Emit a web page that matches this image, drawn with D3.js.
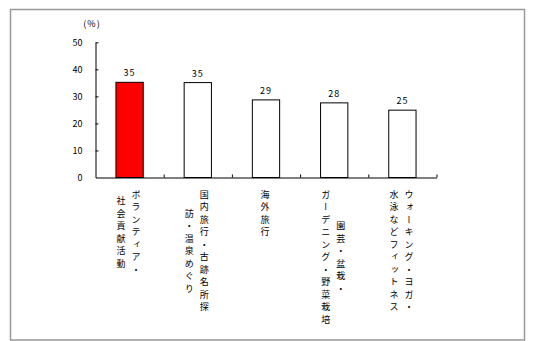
<!DOCTYPE html>
<html>
<head>
<meta charset="utf-8">
<script src="https://cdn.jsdelivr.net/npm/d3@7"></script>
<style>
  body { margin: 0; background: #fff; }
  text { font-family: "MS Gothic", "Noto Sans CJK JP", sans-serif; fill: #000; }
</style>
</head>
<body>
<div id="chart"></div>
<script>
// categories (each label is split into vertical columns, read right to left)
var categories = ["ボランティア・社会貢献活動", "国内旅行・古跡名所探訪・温泉めぐり", "海外旅行",
  "園芸・盆栽・ガーデニング・野菜栽培", "ウォーキング・ヨガ・水泳などフィットネス"];
var labelColumns = [
  ["ボランティア・", "社会貢献活動"],
  ["国内旅行・古跡名所探", "訪・温泉めぐり"],
  ["海外旅行"],
  ["園芸・盆栽・", "ガーデニング・野菜栽培"],
  ["ウォーキング・ヨガ・", "水泳などフィットネス"]
];
var values = [35.2, 35.1, 28.7, 27.6, 24.9];
var valueLabels = ["35", "35", "29", "28", "25"];
var yTicks = [0, 10, 20, 30, 40, 50];

var width = 535, height = 341;

var svg = d3.select("#chart").append("svg")
	.attr("width", width)
	.attr("height", height);

// outer frame
svg.append("rect").attr("x", 10.5).attr("y", 9.5).attr("width", 514).attr("height", 330.5)
	.attr("fill", "none").attr("stroke", "#999").attr("stroke-width", 1.5);

var x0 = 95.5, x1 = 436.5, yBase = 177.5, yTop = 42.3;

var x = d3.scaleBand().domain(categories).range([x0, x1]).paddingInner(0.6).paddingOuter(0.3);
var y = d3.scaleLinear().domain([0, 50]).range([yBase, yTop]);

// y axis, ticks inside
var yAxis = svg.append("g").attr("transform", "translate(" + x0 + ",0)")
	.call(d3.axisLeft(y).tickValues(yTicks).tickSize(-3).tickSizeOuter(0).tickPadding(13));
yAxis.select(".domain").attr("stroke", "#000");
yAxis.selectAll("line").attr("stroke", "#000");
yAxis.selectAll("text").attr("font-size", "9px").attr("dy", "0.35em");
yAxis.selectAll(".tick").filter(function(d) { return d === 0; }).select("line").remove();

// x axis with ticks at category boundaries
var xb = d3.scaleLinear().domain([0, 5]).range([x0, x1]);
var xAxis = svg.append("g").attr("transform", "translate(0," + yBase + ")")
	.call(d3.axisBottom(xb).tickValues([1, 2, 3, 4, 5]).tickSize(-3).tickSizeOuter(0).tickFormat(""));
xAxis.select(".domain").attr("stroke", "#000");
xAxis.selectAll("line").attr("stroke", "#000");

// bars
svg.selectAll(".bar").data(values).enter().append("rect")
	.attr("class", "bar")
	.attr("x", function(d, i) { return x(categories[i]); })
	.attr("y", function(d) { return y(d); })
	.attr("width", x.bandwidth())
	.attr("height", function(d) { return yBase - y(d); })
	.attr("fill", function(d, i) { return i === 0 ? "#ff0000" : "#fff"; })
	.attr("stroke", "#000").attr("stroke-width", 1);

// value labels
svg.selectAll(".val").data(valueLabels).enter().append("text")
	.attr("class", "val")
	.attr("x", function(d, i) { return x(categories[i]) + x.bandwidth() / 2; })
	.attr("y", function(d, i) { return y(values[i]) - 6; })
	.attr("text-anchor", "middle")
	.attr("font-size", "9px")
	.attr("letter-spacing", "1px")
	.text(function(d) { return d; });

// unit
svg.append("text").attr("x", 92).attr("y", 27).attr("text-anchor", "middle")
	.attr("font-size", "9px").attr("letter-spacing", "1px").text("(%)");

// vertical category labels
var pitch = 12.5, colGap = 15, labelTop = 190;
labelColumns.forEach(function(cols, i) {
	var cx = x(categories[i]) + x.bandwidth() / 2 - 1;
	var maxLen = d3.max(cols, function(c) { return c.length; });
	cols.forEach(function(c, j) {
		svg.append("text")
			.attr("x", cx + ((cols.length - 1) / 2 - j) * colGap)
			.attr("y", labelTop + (maxLen - c.length) * pitch / 2)
			.attr("font-size", "9px")
			.style("writing-mode", "vertical-rl")
			.attr("letter-spacing", (pitch - 9) + "px")
			.text(c);
	});
});
</script>
</body>
</html>
